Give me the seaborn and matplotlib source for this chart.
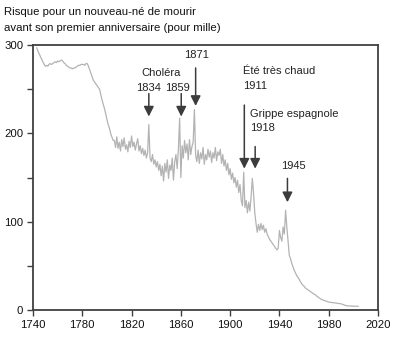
import matplotlib
matplotlib.use("Agg")
import matplotlib.pyplot as plt
import seaborn as sns
import pandas as pd

# ---------------- data ----------------
years = list(range(1743, 2005))

vals_1743_1805 = [297, 293, 290, 287, 284, 281, 278, 276, 277, 276,
                  278, 279, 278, 279, 280, 281, 280, 282, 281, 282,
                  283, 282, 280, 279, 277, 276, 275, 274, 274, 273,
                  274, 274, 275, 276, 277, 277, 278, 278, 278, 277,
                  279, 279, 276, 272, 268, 264, 260, 258, 256, 254,
                  252, 250, 244, 238, 233, 228, 222, 216, 210, 206,
                  200, 196, 192]
vals_1806_1870 = [192, 184, 196, 183, 190, 180, 193, 185, 195, 182,
                  187, 179, 191, 184, 197, 185, 190, 181, 188, 194,
                  180, 186, 177, 183, 175, 181, 172, 178, 210, 172,
                  168, 176, 165, 170, 162, 168, 158, 165, 152, 163,
                  146, 166, 156, 170, 149, 164, 158, 172, 147, 168,
                  176, 160, 182, 217, 150, 186, 172, 192, 178, 188,
                  170, 193, 176, 185, 190]
vals_1871_1945 = [227, 175, 168, 181, 166, 178, 171, 184, 165, 176,
                  170, 182, 173, 180, 167, 178, 172, 184, 169, 179,
                  175, 182, 166, 176, 163, 170, 158, 166, 153, 160,
                  148, 155, 144, 150, 139, 147, 133, 142, 124, 118,
                  156, 116, 124, 110, 122, 112, 128, 149, 132, 110,
                  98, 88, 97, 90, 98, 91, 96, 88, 92, 86,
                  83, 80, 78, 76, 74, 72, 70, 68, 70, 90,
                  82, 78, 94, 86, 113]
vals_1946_2004 = [94, 78, 62, 58, 53, 49, 45, 42, 39, 37,
                  35, 32, 30, 28, 27, 25, 24, 23, 22, 21,
                  20, 19, 18, 17.5, 16, 15, 14, 13, 12, 11.5,
                  11, 10.5, 10, 9.5, 9, 8.8, 8.6, 8.4, 8.2, 8,
                  7.8, 7.6, 7.5, 7.3, 7, 6.5, 6, 5.5, 5, 4.8,
                  4.6, 4.6, 4.5, 4.4, 4.4, 4.4, 4.3, 4.2, 4.2]
values = vals_1743_1805 + vals_1806_1870 + vals_1871_1945 + vals_1946_2004

title_lines = ["Risque pour un nouveau-né de mourir",
               "avant son premier anniversaire (pour mille)"]
x_ticks = [1740, 1780, 1820, 1860, 1900, 1940, 1980, 2020]
y_ticks = [0, 100, 200, 300]
y_minor = [50, 150, 250]

# annotations: arrow x (year), arrow top, arrow tip (values)
arrow_x = [1834, 1860.3, 1872, 1911.5, 1920.3, 1946.5]
arrow_top = [245, 245, 274, 232, 185, 149]
arrow_tip = [219, 219, 231, 160, 160, 122]
# text labels: x, y, text, ha
label_x = [1844.2, 1834, 1857, 1872.6, 1910.3, 1910.3, 1916.4, 1916.4, 1951.5]
label_y = [268, 251.5, 251.5, 289, 270, 254, 222, 205.5, 163]
label_txt = ["Choléra", "1834", "1859", "1871", "Été très chaud", "1911",
             "Grippe espagnole", "1918", "1945"]
label_ha = ["center", "center", "center", "center", "left", "left",
            "left", "left", "center"]

df = pd.DataFrame({"year": years, "value": values})

# ---------------- style ----------------
sns.set_style("white")
plt.rcParams["font.family"] = ["Liberation Sans", "DejaVu Sans"]

W, H = 397, 347
fig = plt.figure(figsize=(W / 100, H / 100), dpi=100)
ax = fig.add_axes([33 / W, 1 - 310 / H, (378 - 33) / W, (310 - 45) / H])

sns.lineplot(data=df, x="year", y="value", ax=ax, color="#b3b3b3",
             linewidth=0.9)

ax.set_xlim(1740, 2020)
ax.set_ylim(0, 300)
ax.set_xticks(x_ticks)
ax.set_xticklabels([str(t) for t in x_ticks])
ax.set_yticks(y_ticks)
ax.set_yticklabels([str(t) for t in y_ticks])
ax.set_yticks(y_minor, minor=True)
ax.set_xlabel("")
ax.set_ylabel("")

spine_col = "#404040"
for s in ax.spines.values():
    s.set_visible(True)
    s.set_color(spine_col)
    s.set_linewidth(1.3)

ax.tick_params(axis="both", which="both", direction="out", color=spine_col,
               width=1.0, labelsize=8.2, labelcolor="#111111")
ax.tick_params(axis="both", which="major", length=4, pad=3)
ax.tick_params(axis="y", which="minor", length=4)
ax.tick_params(axis="x", which="both", bottom=True)
ax.tick_params(axis="y", which="both", left=True)

arrow_col = "#3c3c3c"
for x, top, tip in zip(arrow_x, arrow_top, arrow_tip):
    ax.annotate("", xy=(x, tip), xytext=(x, top),
                arrowprops=dict(arrowstyle="-|>,head_length=0.6,head_width=0.3",
                                color=arrow_col, lw=1.1, mutation_scale=10,
                                shrinkA=0, shrinkB=0))

for x, y, t, ha in zip(label_x, label_y, label_txt, label_ha):
    ax.text(x, y, t, ha=ha, va="center", fontsize=8, color="#222222")

fig.text(4 / W, 1 - 12 / H, title_lines[0], ha="left", va="center",
         fontsize=8.2, color="#111111")
fig.text(4 / W, 1 - 28 / H, title_lines[1], ha="left", va="center",
         fontsize=8.2, color="#111111")

fig.savefig("out.png", dpi=100, facecolor="white")
